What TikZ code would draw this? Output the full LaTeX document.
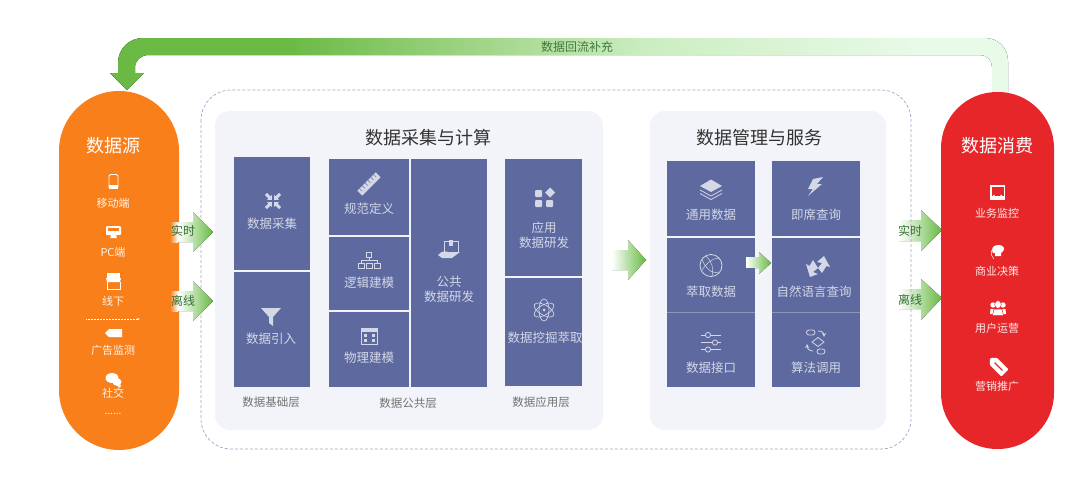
\documentclass[tikz,border=0pt]{standalone}
\usepackage{xcolor}
\usepackage{fontspec}
\usepackage{tikz}
\usetikzlibrary{calc,arrows.meta}
\newfontfamily\cjk{Noto Sans CJK SC}
\definecolor{srcorange}{HTML}{F97F1B}
\definecolor{sinkred}{HTML}{E7262A}
\definecolor{panelgray}{HTML}{F3F4F9}
\definecolor{blockblue}{HTML}{5D699F}
\definecolor{iconlight}{HTML}{D3D7E6}
\definecolor{flowgreen}{HTML}{66B941}
\pgfdeclarehorizontalshading{bandshade}{100bp}{rgb(0bp)=(0.40,0.72,0.25);rgb(35bp)=(0.42,0.73,0.27);rgb(45bp)=(0.62,0.83,0.52);rgb(55bp)=(0.80,0.93,0.76);rgb(70bp)=(0.91,0.98,0.91);rgb(100bp)=(0.91,0.98,0.91)}
\tikzset{
  block/.style={fill=blockblue},
  panel/.style={fill=panelgray,rounded corners=15},
  flow/.style={left color=white,right color=flowgreen,shading angle=90},
  icon/.style={fill=iconlight},
  iconl/.style={draw=iconlight,line width=0.8pt},
  blocklabel/.style={text=iconlight,font=\cjk\fontsize{12.5}{15}\selectfont,align=center,inner sep=0pt,yshift=-1pt},
  sidelabel/.style={text=white,opacity=0.9,font=\cjk\fontsize{11}{13}\selectfont,inner sep=0pt,yshift=-0.5pt},
  sidetitle/.style={text=white,font=\cjk\fontsize{18}{22}\selectfont,inner sep=0pt,yshift=-1pt},
  paneltitle/.style={text=black!80,font=\cjk\fontsize{18}{22}\selectfont,inner sep=0pt,yshift=-1pt},
  layerlabel/.style={text=black!55,font=\cjk\fontsize{11.5}{14}\selectfont,inner sep=0pt},
  flowlabel/.style={text=black!60!green!60!gray,font=\cjk\fontsize{12}{14}\selectfont,inner sep=0pt},
}
\begin{document}
\begin{tikzpicture}[x=1pt,y=-1pt]
    \useasboundingbox (0,0) rectangle (1080,490);
    % feedback band
    \fill[shading=bandshade] (1008,92) -- (1008,61) .. controls (1008,48) and (998,38) .. (985,38) -- (143,38) .. controls (129,38) and (118,49) .. (118,63) -- (118,73) -- (110,73) -- (127,90) -- (144,73) -- (135,73) -- (135,68) .. controls (135,60) and (141,55) .. (149,55) -- (980,55) .. controls (987,55) and (992,60) .. (992,67) -- (992,92) -- cycle;
    \node[text=black!55!green!50!gray,font=\cjk\fontsize{12}{14}\selectfont,inner sep=0pt] at (577, 47) (bandlabel) {数据回流补充};
    % arrows the frame shows through
    \fill[flow] (899,220)--(921,220)--(921,210)--(942,230)--(921,251)--(921,241)--(899,241)--cycle;
    \fill[flow] (899,289)--(921,289)--(921,279)--(942,298)--(921,320)--(921,309)--(899,309)--cycle;
    % frames
    \draw[draw=blockblue!60,densely dashed,line width=0.7pt,rounded corners=30] (201,90) rectangle (911,449);
    \fill[panel] (215,111) rectangle (603,430);
    \fill[panel] (650,111) rectangle (886,430);
    \fill[srcorange,rounded corners=60] (59,91) rectangle (179,450);
    \fill[sinkred,rounded corners=56] (941,92) rectangle (1054,449);
    % blocks
    \fill[block] (234,157) rectangle (310,270);
    \fill[block] (234,272) rectangle (310,387);
    \fill[block] (329,159) rectangle (409,235);
    \fill[block] (329,236.5) rectangle (409,310);
    \fill[block] (329,311.5) rectangle (409,387);
    \fill[block] (410.5,159) rectangle (487,387);
    \fill[block] (505,159) rectangle (582,276);
    \fill[block] (505,277.5) rectangle (582,386);
    \fill[block] (667,161) rectangle (755,236);
    \fill[block] (667,237.5) rectangle (755,387);
    \fill[block] (771.7,161) rectangle (860,236);
    \fill[block] (771.7,237.5) rectangle (860,387);
    \draw[blockblue!70!white,line width=0.4pt] (667,312.5)--(755,312.5);
    \draw[blockblue!70!white,line width=0.4pt] (771.7,312.5)--(860,312.5);
    % flow arrows
    \fill[left color=srcorange,right color=white,shading angle=90] (170,222) rectangle (178,242);
    \fill[left color=srcorange,right color=white,shading angle=90] (170,291) rectangle (178,311);
    \fill[flow] (178,222)--(193,222)--(193,212)--(213,232)--(193,252)--(193,242)--(178,242)--cycle;
    \fill[flow] (178,291)--(193,291)--(193,281)--(213,301)--(193,321)--(193,311)--(178,311)--cycle;
    \fill[flow] (612,250)--(628,250)--(628,240)--(646,260)--(628,280)--(628,270)--(612,270)--cycle;
    \fill[flow] (746,257)--(759,257)--(759,252)--(771,263)--(759,274)--(759,268)--(746,268)--cycle;
    \node[flowlabel] at (183, 231) (srcreal) {实时};
    \node[flowlabel] at (183, 301) (srcoff) {离线};
    \node[flowlabel] at (910, 231) (sinkreal) {实时};
    \node[flowlabel] at (910, 300) (sinkoff) {离线};
    % titles
    \node[sidetitle] at (113, 145) (srctitle) {数据源};
    \node[sidetitle] at (997, 145) (sinktitle) {数据消费};
    \node[paneltitle] at (428, 137) (calctitle) {数据采集与计算};
    \node[paneltitle] at (759, 137) (mgmttitle) {数据管理与服务};
    % source column
    \node[sidelabel] at (113, 203) (mobile) {移动端};
    \node[sidelabel] at (113, 252) (pc) {PC端};
    \node[sidelabel] at (113, 301) (offline) {线下};
    \node[sidelabel] at (113, 350) (adwatch) {广告监测};
    \node[sidelabel] at (113, 393) (social) {社交};
    \node[sidelabel,font=\cjk\fontsize{10}{12}\selectfont] at (113, 413) (more) {......};
    \draw[white,thick,rounded corners=1.5] (109,174.5) rectangle (118,188.5);
    \fill[white] (109,184.5) rectangle (118,188.5);
    \fill[white,rounded corners=1] (106,226) rectangle (121,235);
    \fill[srcorange] (108,228) rectangle (119,231);
    \fill[white] (111,235)--(116,235)--(117,238)--(110,238)--cycle;
    \fill[white] (107,273) rectangle (120,278);
    \fill[white] (106,278)--(121,278)--(120,282)--(107,282)--cycle;
    \draw[white,line width=1pt] (107,282)--(107,289)--(120,289)--(120,282);
    \draw[white,densely dotted,line width=0.5pt,-{Stealth[length=3pt]}] (86,319)--(140,319);
    \fill[white] (105,333)--(109,329)--(122,329)--(122,337)--(109,337)--cycle;
    \fill[white] (112,378) ellipse (6.5 and 5);
    \fill[white] (117,382) ellipse (4.5 and 3.8);
    \fill[white] (116,385)--(121,385)--(120,388)--cycle;
    % sink column
    \node[sidelabel] at (997, 213) (monitor) {业务监控};
    \node[sidelabel] at (997, 271) (decide) {商业决策};
    \node[sidelabel] at (997, 328) (operate) {用户运营};
    \node[sidelabel] at (997, 386) (promote) {营销推广};
    \fill[white] (990,185) rectangle (1005,200);
    \fill[sinkred] (991.5,186.5) rectangle (1003.5,196);
    \draw[white,line width=1.5pt] (993.5,195) arc[start angle=180,end angle=0,radius=4];
    \fill[white] (998,245) .. controls (992,245) and (991,250) .. (993,253) -- (995,253) -- (995,256) -- (1001,256) -- (1001,253) .. controls (1006,250) and (1005,245) .. (998,245) -- cycle;
    \draw[white,line width=0.5pt] (992,250) .. controls (990,254) and (992,257) .. (994,259);
    \fill[white] (993,305) circle (2.7);
    \fill[white] (1003,305) circle (2.7);
    \fill[white] (990,314) -- (990.5,309) -- (1005.5,309) -- (1006,314) -- cycle;
    \fill[white,draw=sinkred,line width=0.5pt] (998,304.5) ellipse (3.3 and 4);
    \fill[white,draw=sinkred,line width=0.5pt] (992.5,315.5) -- (994,309) -- (1002,309) -- (1003.5,315.5) -- cycle;
    \begin{scope}[shift={(997.5,365.5)},rotate=-45]
      \fill[white,rounded corners=1] (-10.5,0)--(-6,-5)--(10.5,-5)--(10.5,5)--(-6,5)--cycle;
      \fill[sinkred] (-4,-0.7) rectangle (7,0.7);
    \end{scope}
    % blocks, left panel
    \node[blocklabel] at (272, 223) (collect) {数据采集};
    \node[blocklabel] at (271, 338) (ingest) {数据引入};
    \node[blocklabel] at (369, 208) (spec) {规范定义};
    \node[blocklabel] at (369, 282) (logic) {逻辑建模};
    \node[blocklabel] at (369, 357) (physical) {物理建模};
    \node[blocklabel] at (449, 288) (common) {公共\\数据研发};
    \node[blocklabel] at (544, 234.5) (appdev) {应用\\数据研发};
    \node[blocklabel] at (545, 337) (mining) {数据挖掘萃取};
    \node[layerlabel] at (271, 402) (baselayer) {数据基础层};
    \node[layerlabel] at (408, 403) (commonlayer) {数据公共层};
    \node[layerlabel] at (541, 402) (applayer) {数据应用层};
    % left panel icons
    \foreach \r in {45,135,225,315}{
      \fill[icon,shift={(273,201)},rotate=\r] (1.5,0)--(5,-3.5)--(5,-1.5)--(10,-1.5)--(10,1.5)--(5,1.5)--(5,3.5)--cycle;
    }
    \fill[icon] (261,308)--(281,308)--(273,317)--(273,326)--(269,323)--(269,317)--cycle;
    \begin{scope}[shift={(369,184)},rotate=45]
      \fill[icon] (-13,-3.5) rectangle (13,3.5);
      \foreach \t in {-10,-6,-2,2,6,10}{\draw[blockblue,line width=0.5pt] (\t,-3.5)--(\t,0);}
    \end{scope}
    \draw[iconl,line width=0.6pt] (366.5,252) rectangle (371.5,257);
    \draw[iconl,line width=0.6pt] (369,257)--(369,260) (361,263)--(361,260)--(377,260)--(377,263);
    \foreach \t in {361,369,377}{\draw[iconl,line width=0.6pt] (\t-3,263) rectangle (\t+3,268.5);}
    \draw[iconl] (361,328) rectangle (377,344);
    \fill[icon] (361,328) rectangle (377,332);
    \foreach \t in {364,372}{\fill[icon] (\t,334) rectangle (\t+3,336.5);\fill[icon] (\t,339) rectangle (\t+3,341.5);}
    \draw[iconl] (444,241) rectangle (458,252);
    \fill[icon] (449,240) rectangle (453,246);
    \fill[icon] (438,255) .. controls (442,250) and (447,251) .. (450,253) -- (460,252) -- (452,258) -- (442,258) -- cycle;
    \fill[icon,rounded corners=1] (535,190) rectangle (542,197);
    \fill[icon] (550,187.5)--(555,192.5)--(550,197.5)--(545,192.5)--cycle;
    \fill[icon,rounded corners=1] (535,200) rectangle (542,207);
    \fill[icon,rounded corners=1] (546,200) rectangle (553,207);
    \foreach \r in {30,90,150}{\draw[iconl,line width=0.7pt] (544,310) ellipse[x radius=11,y radius=5,rotate=\r];}
    \fill[icon] (544,310) circle (1.5);
    % blocks, right panel
    \node[blocklabel] at (711, 214) (general) {通用数据};
    \node[blocklabel] at (711, 291) (extract) {萃取数据};
    \node[blocklabel] at (711, 367) (api) {数据接口};
    \node[blocklabel] at (816, 214) (adhoc) {即席查询};
    \node[blocklabel] at (814, 291) (nlquery) {自然语言查询};
    \node[blocklabel] at (816, 367) (algo) {算法调用};
    % right panel icons
    \fill[icon] (711,179.5)--(722,186)--(711,192)--(700,186)--cycle;
    \draw[iconl] (700,190)--(711,196)--(722,190);
    \draw[iconl] (700,193.5)--(711,199.5)--(722,193.5);
    \draw[iconl] (711,265.5) circle (11);
    \draw[iconl,line width=0.5pt] (702,260) .. controls (708,272) and (714,274) .. (719,272) (706,256) .. controls (712,262) and (714,268) .. (712,276) (719,258) .. controls (712,258) and (706,264) .. (702,270);
    \foreach \yy/\xx in {335/708,342.5/715,349.5/708}{
      \draw[iconl] (701,\yy)--(721,\yy);
      \fill[blockblue] (\xx,\yy) circle (2.6);
      \draw[iconl] (\xx,\yy) circle (2.6);
    }
    \fill[icon] (823,177)--(813,179)--(808,189)--(813,189)--(808,196)--(822,184)--(817,184)--cycle;
    \fill[icon] (824,256)--(830,267)--(826.5,266)--(822,273)--(818,268)--(822,263)--(817,262)--cycle;
    \fill[icon] (810,277)--(806,264)--(809.5,266)--(813,260)--(818,268)--(813,272)--(818,274)--cycle;
    \draw[iconl,rounded corners=2.5] (806.5,330) rectangle (815,335);
    \draw[iconl] (812,342)--(818,337.5)--(824,342)--(818,346.5)--cycle;
    \draw[iconl,rounded corners=2.5] (817,349) rectangle (825,354);
    \draw[iconl,->,>=stealth] (818,331) .. controls (822,331) and (824,333) .. (824,337);
    \draw[iconl,->,>=stealth] (813,351) .. controls (809,351) and (807,348) .. (807,344);
\end{tikzpicture}
\end{document}
